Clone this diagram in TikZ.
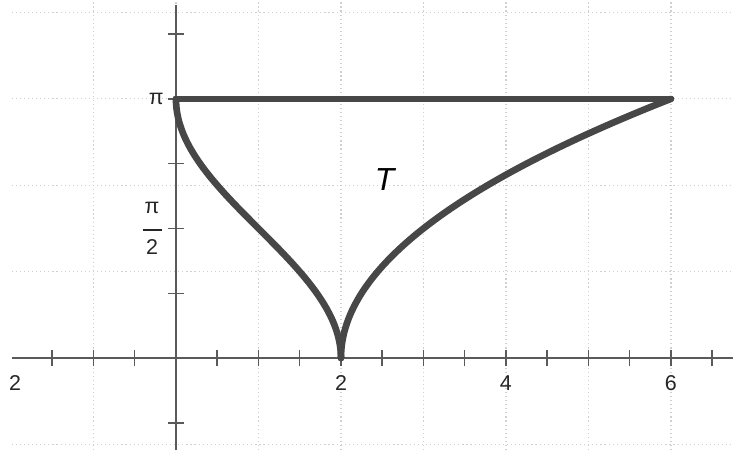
\documentclass[tikz,border=0pt]{standalone}
\usepackage{fontspec}
\setmainfont{Liberation Sans}
\usetikzlibrary{positioning}
\definecolor{cgrid}{HTML}{CFCFCF}
\definecolor{caxis}{HTML}{5A5A5A}
\definecolor{ccurve}{HTML}{474747}
\tikzset{
  every picture/.style={line width=0.5pt},
  gridline/.style={draw=cgrid, line width=0.4pt, densely dotted},
  axis/.style={draw=caxis, line width=0.6pt},
  tick/.style={draw=caxis, line width=0.5pt},
  boundary/.style={draw=ccurve, line width=2.3pt, line cap=round, line join=round},
  ticklabel/.style={font=\fontsize{7.4}{8}\selectfont, text=black!85, inner sep=0pt},
}

\begin{document}
\begin{tikzpicture}[x=1cm, y=1cm]
  \useasboundingbox (-2.133,-1.115) rectangle (6.752,4.340);
  % grid
  \foreach \i in {-1,...,6}
    \draw[gridline] (\i,-1.115) -- (\i,4.340);
  \foreach \k in {-1,...,4}
    \draw[gridline] (-1.99,\k*pi/3) -- (6.752,\k*pi/3);
  % axes and ticks
  \draw[axis] (-1.99,0) -- (6.752,0);
  \draw[axis] (0,-1.115) -- (0,4.28);
  \foreach \t in {-1.5,-1,-0.5,0.5,1,1.5,2,2.5,3,3.5,4,4.5,5,5.5,6,6.5}
    \draw[tick] (\t,-0.1) -- (\t,0.1);
  \foreach \k in {-1,1,2,3,4,5}
    \draw[tick] (-0.1,\k*pi/4) -- (0.1,\k*pi/4);
  % tick labels
  \node[ticklabel] (xm2) at (-1.95,-0.3) {2};
  \node[ticklabel] (x2) at (2,-0.3) {2};
  \node[ticklabel] (x4) at (4,-0.3) {4};
  \node[ticklabel] (x6) at (6,-0.3) {6};
  \node[ticklabel, anchor=east] (ypi) at (-0.14,pi) {π};
  \node[ticklabel, align=center] (yhalf) at (-0.29,pi/2)
    {π\\[-2pt]\rule{0.23cm}{0.8pt}\\[0pt]2};
  % region T
  \coordinate (top) at (0,pi);
  \coordinate (cusp) at (2,0);
  \coordinate (tip) at (6,pi);
  \draw[boundary] plot[domain=0:pi, samples=80] ({1+cos(\x r)}, \x);
  \draw[boundary] plot[domain=0:pi, samples=80] ({2+4*(\x/pi)^2}, \x);
  \draw[boundary] (top) -- (tip);
  \node[font=\itshape\fontsize{11}{13}\selectfont] (T) at (2.53,2.16) {T};
\end{tikzpicture}
\end{document}
